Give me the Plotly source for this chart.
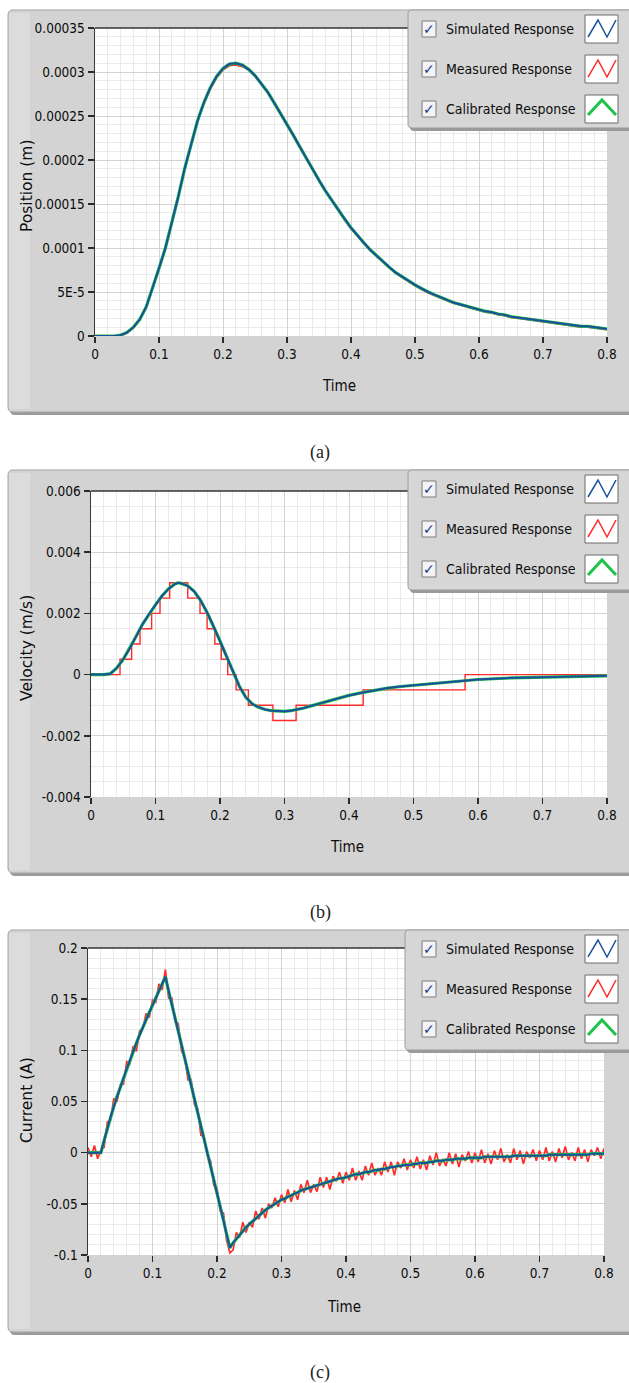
import plotly.graph_objects as go

W, H = 629, 1383
NARROW = "DejaVu Sans Condensed, DejaVu Sans, sans-serif"
SANS = "DejaVu Sans, sans-serif"
SERIF = "Liberation Serif, Times New Roman, serif"

SIM_COLOR = "#1b4f9c"
MEAS_COLOR = "#ff2a2a"
CAL_COLOR = "#1fc24a"

# ---------------- data ----------------
time_ticks = [0, 0.1, 0.2, 0.3, 0.4, 0.5, 0.6, 0.7, 0.8]
time_ticktext = ["0", "0.1", "0.2", "0.3", "0.4", "0.5", "0.6", "0.7", "0.8"]

# (a) Position (m), sampled every 0.01 s
pos_t = [i / 100 for i in range(81)]
pos_sim = [
    0, 0, 0, 0, 1e-6, 4e-6, 10e-6, 19e-6, 33e-6, 54e-6,
    77e-6, 100e-6, 128e-6, 158e-6, 190e-6, 218e-6, 244e-6, 265e-6, 282e-6, 295e-6,
    304e-6, 309e-6, 310e-6, 308e-6, 303e-6, 296e-6, 287e-6, 277e-6, 265e-6, 253e-6,
    241e-6, 228e-6, 215e-6, 202e-6, 189e-6, 177e-6, 165e-6, 154e-6, 143e-6, 133e-6,
    123e-6, 114e-6, 106e-6, 98e-6, 91e-6, 84e-6, 78e-6, 72e-6, 67e-6, 62e-6,
    58e-6, 54e-6, 50e-6, 47e-6, 44e-6, 41e-6, 38e-6, 36e-6, 34e-6, 32e-6,
    30e-6, 28e-6, 27e-6, 25e-6, 24e-6, 22e-6, 21e-6, 20e-6, 19e-6, 18e-6,
    17e-6, 16e-6, 15e-6, 14e-6, 13e-6, 12e-6, 11e-6, 11e-6, 10e-6, 9e-6,
    8e-6,
]
pos_meas = [
    0, 0, 0, 0, 0, 3e-6, 9e-6, 18e-6, 32e-6, 53e-6,
    76e-6, 99e-6, 127e-6, 157e-6, 189e-6, 217e-6, 243e-6, 263e-6, 280e-6, 293e-6,
    302e-6, 307e-6, 308e-6, 306e-6, 302e-6, 295e-6, 286e-6, 276e-6, 264e-6, 252e-6,
    240e-6, 227e-6, 214e-6, 201e-6, 188e-6, 176e-6, 164e-6, 153e-6, 142e-6, 132e-6,
    122e-6, 113e-6, 105e-6, 97e-6, 90e-6, 83e-6, 77e-6, 71e-6, 66e-6, 61e-6,
    57e-6, 53e-6, 49e-6, 46e-6, 43e-6, 40e-6, 37e-6, 35e-6, 33e-6, 31e-6,
    29e-6, 27e-6, 26e-6, 24e-6, 23e-6, 21e-6, 20e-6, 19e-6, 18e-6, 17e-6,
    16e-6, 15e-6, 14e-6, 13e-6, 12e-6, 11e-6, 10e-6, 10e-6, 9e-6, 8e-6,
    7e-6,
]
pos_ticks = [0, 5e-5, 1e-4, 1.5e-4, 2e-4, 2.5e-4, 3e-4, 3.5e-4]
pos_ticktext = ["0", "5E-5", "0.0001", "0.00015", "0.0002", "0.00025", "0.0003", "0.00035"]

# (b) Velocity (m/s)
vel_t = [0, 0.01, 0.02, 0.03, 0.04, 0.05, 0.06, 0.07, 0.08, 0.09, 0.10, 0.11, 0.12, 0.13,
         0.135, 0.14, 0.15, 0.16, 0.17, 0.18, 0.19, 0.20, 0.21, 0.22, 0.23, 0.24, 0.25,
         0.26, 0.27, 0.28, 0.29, 0.30, 0.31, 0.32, 0.33, 0.34, 0.36, 0.38, 0.40, 0.42,
         0.44, 0.46, 0.48, 0.50, 0.53, 0.56, 0.60, 0.65, 0.70, 0.75, 0.80]
vel_sim = [0, 0, 0, 0.00003, 0.00022, 0.0005, 0.00085, 0.00125, 0.00165, 0.00198, 0.00228,
           0.00257, 0.0028, 0.00296, 0.003, 0.00298, 0.0029, 0.00272, 0.00242, 0.00203,
           0.00158, 0.0011, 0.0006, 0.0001, -0.00038, -0.00074, -0.00096, -0.00107,
           -0.00114, -0.00118, -0.0012, -0.0012, -0.00118, -0.00114, -0.00109, -0.00103,
           -0.00091, -0.00079, -0.00068, -0.00059, -0.00051, -0.00044, -0.00039, -0.00035,
           -0.00029, -0.00024, -0.00016, -0.00011, -0.00008, -0.00006, -0.00004]
vel_meas_t = [0, 0.045, 0.063, 0.076, 0.094, 0.107, 0.122, 0.150, 0.169, 0.180, 0.192,
              0.202, 0.212, 0.225, 0.244, 0.282, 0.318, 0.422, 0.580, 0.800]
vel_meas = [0, 0.0005, 0.001, 0.0015, 0.002, 0.0025, 0.003, 0.0025, 0.002, 0.0015, 0.001,
            0.0005, 0, -0.0005, -0.001, -0.0015, -0.001, -0.0005, 0, 0]
vel_ticks = [-0.004, -0.002, 0, 0.002, 0.004, 0.006]
vel_ticktext = ["-0.004", "-0.002", "0", "0.002", "0.004", "0.006"]

# (c) Current (A), sampled every 0.005 s
cur_t = [i * 0.005 for i in range(161)]
cur_sim = [
    0.000, 0.000, 0.000, 0.000, 0.000, 0.012, 0.024, 0.035, 0.045, 0.055,
    0.064, 0.073, 0.082, 0.091, 0.099, 0.107, 0.115, 0.123, 0.130, 0.137,
    0.144, 0.151, 0.158, 0.165, 0.172, 0.158, 0.145, 0.131, 0.118, 0.104,
    0.091, 0.077, 0.064, 0.051, 0.038, 0.025, 0.012, -0.001, -0.014, -0.027,
    -0.040, -0.053, -0.066, -0.080, -0.093, -0.088, -0.084, -0.080, -0.076, -0.073,
    -0.070, -0.067, -0.064, -0.061, -0.059, -0.056, -0.054, -0.052, -0.050, -0.048,
    -0.046, -0.045, -0.043, -0.042, -0.040, -0.039, -0.037, -0.036, -0.035, -0.034,
    -0.033, -0.032, -0.031, -0.030, -0.029, -0.028, -0.027, -0.026, -0.025, -0.025,
    -0.024, -0.023, -0.022, -0.021, -0.021, -0.020, -0.019, -0.019, -0.018, -0.017,
    -0.017, -0.016, -0.016, -0.015, -0.014, -0.014, -0.013, -0.013, -0.012, -0.012,
    -0.012, -0.011, -0.011, -0.010, -0.010, -0.010, -0.009, -0.009, -0.008, -0.008,
    -0.008, -0.007, -0.007, -0.007, -0.006, -0.006, -0.006, -0.006, -0.005, -0.005,
    -0.005, -0.005, -0.005, -0.004, -0.004, -0.004, -0.004, -0.004, -0.004, -0.004,
    -0.004, -0.004, -0.003, -0.003, -0.003, -0.003, -0.003, -0.003, -0.003, -0.003,
    -0.003, -0.003, -0.003, -0.002, -0.002, -0.002, -0.002, -0.002, -0.002, -0.002,
    -0.002, -0.002, -0.002, -0.002, -0.002, -0.002, -0.001, -0.001, -0.001, -0.001,
    -0.001,
]
cur_meas = [
    0.005, -0.004, 0.007, -0.006, 0.003, 0.005, 0.030, 0.032, 0.053, 0.050,
    0.066, 0.067, 0.089, 0.087, 0.104, 0.099, 0.119, 0.121, 0.136, 0.132,
    0.149, 0.147, 0.165, 0.159, 0.179, 0.151, 0.151, 0.128, 0.126, 0.099,
    0.093, 0.071, 0.071, 0.047, 0.043, 0.017, 0.016, -0.003, -0.008, -0.032,
    -0.035, -0.057, -0.059, -0.086, -0.098, -0.095, -0.078, -0.083, -0.068, -0.078,
    -0.068, -0.073, -0.057, -0.065, -0.054, -0.064, -0.050, -0.054, -0.044, -0.053,
    -0.041, -0.049, -0.036, -0.048, -0.037, -0.046, -0.031, -0.039, -0.027, -0.039,
    -0.031, -0.038, -0.024, -0.034, -0.024, -0.036, -0.023, -0.028, -0.019, -0.030,
    -0.019, -0.027, -0.015, -0.027, -0.018, -0.027, -0.013, -0.022, -0.010, -0.022,
    -0.015, -0.022, -0.009, -0.019, -0.009, -0.022, -0.009, -0.015, -0.006, -0.017,
    -0.007, -0.015, -0.004, -0.016, -0.007, -0.017, -0.003, -0.012, 0.000, -0.013,
    -0.006, -0.013, 0.000, -0.011, -0.001, -0.014, -0.002, -0.008, 0.001, -0.010,
    0.000, -0.009, 0.003, -0.010, -0.001, -0.011, 0.002, -0.007, 0.004, -0.009,
    -0.002, -0.010, 0.004, -0.007, 0.002, -0.011, 0.001, -0.005, 0.003, -0.008,
    0.002, -0.007, 0.005, -0.008, 0.001, -0.009, 0.004, -0.005, 0.006, -0.007,
    0.000, -0.008, 0.005, -0.006, 0.003, -0.009, 0.003, -0.003, 0.005, -0.006,
    0.004,
]
cur_ticks = [-0.1, -0.05, 0, 0.05, 0.1, 0.15, 0.2]
cur_ticktext = ["-0.1", "-0.05", "0", "0.05", "0.1", "0.15", "0.2"]

legend_names = ["Simulated Response", "Measured Response", "Calibrated Response"]
captions = ["(a)", "(b)", "(c)"]
y_titles = ["Position (m)", "Velocity (m/s)", "Current (A)"]

# ---------------- layout geometry (pixels) ----------------
panels = [
    dict(top=10, bottom=412, ptop=28, pbot=336, x0=95, x1=607, cap=452, time_x=339,
         time_y=386, ytitle_y=186, lg_left=408, lg_top=10, lg_bot=128,
         yrange=[0, 0.00035], yminor=0.00001, meas_w=1.4),
    dict(top=470, bottom=873, ptop=491, pbot=797, x0=91, x1=607, cap=912, time_x=347,
         time_y=847, ytitle_y=648, lg_left=408, lg_top=470, lg_bot=590,
         yrange=[-0.004, 0.006], yminor=0.0005, meas_w=1.4),
    dict(top=930, bottom=1332, ptop=948, pbot=1255, x0=88, x1=604, cap=1372, time_x=344,
         time_y=1307, ytitle_y=1100, lg_left=405, lg_top=930, lg_bot=1050,
         yrange=[-0.1, 0.2], yminor=0.01, meas_w=1.7),
]


def px(x):
    return x / W


def py(y):
    return 1 - y / H


def rr_path(x0, y0, x1, y1, r):
    P = lambda x, y: f"{px(x):.5f},{py(y):.5f}"
    return (f"M {P(x0 + r, y0)} L {P(x1 - r, y0)} Q {P(x1, y0)} {P(x1, y0 + r)} "
            f"L {P(x1, y1 - r)} Q {P(x1, y1)} {P(x1 - r, y1)} L {P(x0 + r, y1)} "
            f"Q {P(x0, y1)} {P(x0, y1 - r)} L {P(x0, y0 + r)} Q {P(x0, y0)} {P(x0 + r, y0)} Z")


def rect(x0, y0, x1, y1, fill, line=None, lw=0, layer="below"):
    return dict(type="rect", xref="paper", yref="paper", x0=px(x0), x1=px(x1),
                y0=py(y1), y1=py(y0), fillcolor=fill,
                line=dict(color=line or fill, width=lw), layer=layer)


def poly(points, color, width):
    d = "M " + " L ".join(f"{px(x):.5f},{py(y):.5f}" for x, y in points)
    return dict(type="path", xref="paper", yref="paper", path=d,
                line=dict(color=color, width=width), layer="above")


fig = go.Figure()
shapes_below, shapes_above, annotations = [], [], []

series = [
    [(pos_t, pos_meas, "linear"), (pos_t, pos_sim, "linear"), (pos_t, pos_sim, "linear")],
    [(vel_meas_t, vel_meas, "hv"), (vel_t, vel_sim, "linear"), (vel_t, vel_sim, "linear")],
    [(cur_t, cur_meas, "linear"), (cur_t, cur_sim, "linear"), (cur_t, cur_sim, "linear")],
]
ytick_sets = [(pos_ticks, pos_ticktext), (vel_ticks, vel_ticktext), (cur_ticks, cur_ticktext)]

TICKFONT = dict(family=NARROW, size=13.5, color="#0a0a0a")

layout_axes = {}
for k, p in enumerate(panels):
    sfx = "" if k == 0 else str(k + 1)
    xa, ya = "x" + sfx, "y" + sfx

    # panel background
    shapes_below.append(dict(type="path", xref="paper", yref="paper",
                             path=rr_path(10, p["top"] + 3, 660, p["bottom"] + 3, 5),
                             fillcolor="#9a9a9a", line=dict(width=0), layer="below"))
    shapes_below.append(dict(type="path", xref="paper", yref="paper",
                             path=rr_path(8, p["top"], 660, p["bottom"], 5),
                             fillcolor="#d3d3d3", line=dict(color="#a4a4a4", width=1),
                             layer="below"))
    shapes_below.append(rect(9, p["top"] + 3, 30, p["bottom"] - 3, "#dcdcdc"))
    shapes_below.append(rect(p["x0"], p["ptop"], p["x1"], p["pbot"], "#ffffff"))

    (m, s, c) = series[k]
    fig.add_trace(go.Scatter(x=m[0], y=m[1], mode="lines",
                             line=dict(color=MEAS_COLOR, width=p["meas_w"], shape=m[2]),
                             xaxis=xa, yaxis=ya, showlegend=False, name=legend_names[1]))
    fig.add_trace(go.Scatter(x=c[0], y=c[1], mode="lines", line=dict(color=CAL_COLOR, width=3.2, shape=c[2]),
                             xaxis=xa, yaxis=ya, showlegend=False, name=legend_names[2]))
    fig.add_trace(go.Scatter(x=s[0], y=s[1], mode="lines", line=dict(color=SIM_COLOR, width=2.0, shape=s[2]),
                             xaxis=xa, yaxis=ya, showlegend=False, name=legend_names[0]))

    tv, tt = ytick_sets[k]
    layout_axes["xaxis" + sfx] = dict(
        domain=[px(p["x0"]), px(p["x1"])], range=[0, 0.8], anchor=ya,
        tickvals=time_ticks, ticktext=time_ticktext, showgrid=True, gridcolor="#d3d3d3",
        gridwidth=1, minor=dict(dtick=0.02, tick0=0, showgrid=True, gridcolor="#eaeaea", gridwidth=1),
        zeroline=False, showline=False, ticks="outside", ticklen=6, tickwidth=1.5,
        tickcolor="#2a2a2a", tickfont=TICKFONT)
    layout_axes["yaxis" + sfx] = dict(
        domain=[py(p["pbot"]), py(p["ptop"])], range=p["yrange"], anchor=xa,
        tickvals=tv, ticktext=tt, showgrid=True, gridcolor="#d3d3d3", gridwidth=1,
        minor=dict(dtick=p["yminor"], tick0=0, showgrid=True, gridcolor="#eaeaea", gridwidth=1),
        zeroline=False, showline=True, linecolor="#3a3a3a", linewidth=1.5,
        ticks="outside", ticklen=6, tickwidth=1.5, tickcolor="#2a2a2a",
        tickfont=TICKFONT)

    # top border of the plot area
    shapes_above.append(dict(type="line", xref="paper", yref="paper",
                             x0=px(p["x0"]), x1=px(640), y0=py(p["ptop"]), y1=py(p["ptop"]),
                             line=dict(color="#333333", width=1.5), layer="above"))

    # legend box
    L, T, B = p["lg_left"], p["lg_top"], p["lg_bot"]
    shapes_above.append(dict(type="path", xref="paper", yref="paper",
                             path=rr_path(L + 2, T + 2, 660, B + 3, 4),
                             fillcolor="#9a9a9a", line=dict(width=0), layer="above"))
    shapes_above.append(dict(type="path", xref="paper", yref="paper",
                             path=rr_path(L, T, 660, B, 4),
                             fillcolor="#d6d6d6", line=dict(color="#9c9c9c", width=1), layer="above"))
    row_c = [T + 19, T + 59, T + 99]
    colors = [SIM_COLOR, MEAS_COLOR, CAL_COLOR]
    for r, yc in enumerate(row_c):
        shapes_above.append(rect(422, yc - 8, 436, yc + 8, "#f3f3f6", "#7d7d7d", 1, "above"))
        annotations.append(dict(x=px(429), y=py(yc), xref="paper", yref="paper", text="✓",
                                showarrow=False, font=dict(family="DejaVu Sans", size=14, color="#1d3a8a"),
                                xanchor="center", yanchor="middle"))
        annotations.append(dict(x=px(444), y=py(yc), xref="paper", yref="paper", text=legend_names[r],
                                showarrow=False, font=dict(family=NARROW, size=14, color="#0d0d0d"),
                                xanchor="left", yanchor="middle"))
        shapes_above.append(rect(585, yc - 14, 618, yc + 14, "#ffffff", "#6a6a6a", 1, "above"))
        if r == 2:
            pts = [(588, yc + 6), (602, yc - 9), (616, yc + 6)]
            shapes_above.append(poly(pts, colors[r], 3))
        else:
            pts = [(588, yc + 8), (598, yc - 9), (607, yc + 8), (616, yc - 9)]
            shapes_above.append(poly(pts, colors[r], 1.5))

    # axis titles and caption
    annotations.append(dict(x=px(27), y=py(p["ytitle_y"]), xref="paper", yref="paper",
                            text=y_titles[k], textangle=-90, showarrow=False,
                            font=dict(family=SANS, size=15.5, color="#0d0d0d"),
                            xanchor="center", yanchor="middle"))
    annotations.append(dict(x=px(p["time_x"]), y=py(p["time_y"]), xref="paper", yref="paper",
                            text="Time", showarrow=False,
                            font=dict(family=NARROW, size=15, color="#0d0d0d"),
                            xanchor="center", yanchor="middle"))
    annotations.append(dict(x=px(320), y=py(p["cap"]), xref="paper", yref="paper",
                            text=captions[k], showarrow=False,
                            font=dict(family=SERIF, size=18, color="#222"),
                            xanchor="center", yanchor="middle"))

fig.update_layout(
    width=W, height=H, margin=dict(l=0, r=0, t=0, b=0),
    paper_bgcolor="#ffffff", plot_bgcolor="rgba(0,0,0,0)",
    template="none", showlegend=False, hovermode=False,
    shapes=shapes_below + shapes_above, annotations=annotations,
    **layout_axes,
)
fig.write_html("out.html", config={"displayModeBar": False, "staticPlot": True},
               post_script="document.body.style.margin='0px';document.body.style.overflow='hidden';")
